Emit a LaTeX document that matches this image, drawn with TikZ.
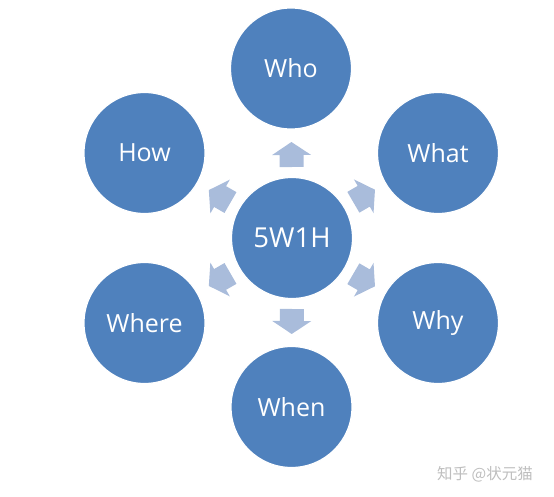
\documentclass[tikz,border=0pt]{standalone}
\usepackage{fontspec}
\setmainfont{Open Sans}
\newfontfamily\cjk{Noto Sans CJK SC}
\usetikzlibrary{calc}
\definecolor{circc}{HTML}{4F81BD}
\definecolor{arrc}{HTML}{A9BCDB}
\definecolor{wmark}{HTML}{BEBEBE}
\newcommand{\blockarrow}[1]{%
  \fill[arrc] ($(c)!71pt!(#1)!12pt!90:(#1)$) -- ($(c)!83pt!(#1)!12pt!90:(#1)$)
    -- ($(c)!83pt!(#1)!19.5pt!90:(#1)$) -- ($(c)!96pt!(#1)$)
    -- ($(c)!83pt!(#1)!19.5pt!-90:(#1)$) -- ($(c)!83pt!(#1)!12pt!-90:(#1)$)
    -- ($(c)!71pt!(#1)!12pt!-90:(#1)$) -- cycle;}
\begin{document}
\begin{tikzpicture}[x=1pt,y=-1pt,
  bubble/.style={circle, fill=circc, draw=white, line width=1.2pt,
    minimum size=121pt, inner sep=0pt, text=white,
    font=\fontsize{25}{30}\selectfont}]
\useasboundingbox (0,0) rectangle (554,497);
\node[bubble, font=\fontsize{27.5}{32}\selectfont] (c) at (292,238) {5W1H};
\node[bubble] (who) at (291,68.5) {Who};
\node[bubble] (what) at (438,153) {What};
\node[bubble] (why) at (438,323) {Why};
\node[bubble] (when) at (291.5,407) {When};
\node[bubble] (where) at (144.5,323) {Where};
\node[bubble] (how) at (144.5,153) {How};
\blockarrow{who}
\blockarrow{what}
\blockarrow{why}
\blockarrow{when}
\blockarrow{where}
\blockarrow{how}
\node[text=wmark, font=\cjk\fontsize{15.5}{18}\selectfont] (wm) at (485,474) {知乎 @状元猫};
\end{tikzpicture}
\end{document}
